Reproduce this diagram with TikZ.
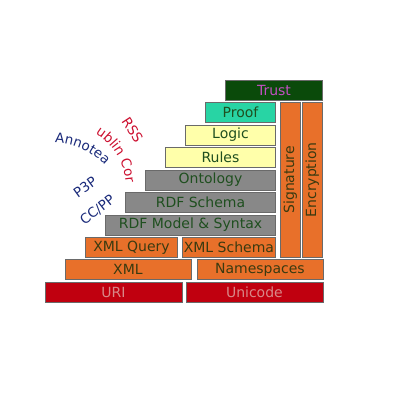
\documentclass[tikz,border=0pt]{standalone}
\usepackage{fontspec}
\setmainfont{DejaVu Sans}
\usetikzlibrary{decorations.text}
\definecolor{boxline}{HTML}{6A6A6A}
\definecolor{darkred}{HTML}{C0000F}
\definecolor{uritext}{HTML}{D88888}
\definecolor{orng}{HTML}{E8702A}
\definecolor{orngtext}{HTML}{3A3A10}
\definecolor{gry}{HTML}{888888}
\definecolor{grytext}{HTML}{1F4F1F}
\definecolor{yel}{HTML}{FFFFAA}
\definecolor{teal2}{HTML}{28D4A4}
\definecolor{trustbg}{HTML}{0A4A0A}
\definecolor{trusttext}{HTML}{C050C0}
\definecolor{annblue}{HTML}{1A2A7A}
\definecolor{labred}{HTML}{CC1030}
\begin{document}
\begin{tikzpicture}[x=1pt,y=1pt,
  layer/.style={draw=boxline, line width=0.8pt, inner sep=0pt, minimum height=20pt,
    font=\fontsize{14}{14}\selectfont},
  redbox/.style={layer, fill=darkred, text=uritext},
  orbox/.style={layer, fill=orng, text=orngtext},
  grbox/.style={layer, fill=gry, text=grytext},
  yebox/.style={layer, fill=yel, text=grytext},
  lab/.style={font=\fontsize{13.5}{13.5}\selectfont, inner sep=0pt}]
\useasboundingbox (0,0) rectangle (400,-400);
% bottom rows
\node[redbox, minimum width=137] (uri) at (113.4,-292.3) {URI};
\node[redbox, minimum width=137] (unicode) at (254.4,-292.3) {Unicode};
\node[orbox, minimum width=126] (xml) at (127.9,-269.8) {XML};
\node[orbox, minimum width=126] (ns) at (259.9,-269.8) {Namespaces};
\node[orbox, minimum width=92.4] (xq) at (131.5,-247.4) {XML Query};
\node[orbox, minimum width=93.7] (xs) at (228.9,-247.4) {XML Schema};
\node[grbox, minimum width=170.4] (rdfms) at (190.5,-224.9) {RDF Model \& Syntax};
\node[grbox, minimum width=150.4] (rdfs) at (200.5,-202.4) {RDF Schema};
\node[grbox, minimum width=130.4] (onto) at (210.5,-179.9) {Ontology};
\node[yebox, minimum width=110.4] (rules) at (220.5,-157.4) {Rules};
\node[yebox, minimum width=90.4] (logic) at (230.5,-135) {Logic};
\node[layer, fill=teal2, text=grytext, minimum width=70.4] (proof) at (240.5,-112.5) {Proof};
\node[layer, fill=trustbg, text=trusttext, minimum width=97.4] (trust) at (274,-90) {Trust};
\node[orbox, minimum width=155, minimum height=20, rotate=90] (sig) at (290.3,-179.8) {Signature};
\node[orbox, minimum width=155, minimum height=20.7, rotate=90] (enc) at (312.35,-179.8) {Encryption};
% labels
\path[decorate, decoration={text along path, text align=center, text color=annblue,
  text={|\fontsize{13.5}{13.5}\selectfont|Annotea}}]
  (52.5,-216) ++(88:73) arc[start angle=88, end angle=44, radius=73];
\path[decorate, decoration={text along path, text align=center, text color=labred,
  text={|\fontsize{13.5}{13.5}\selectfont|ublin Cor}}]
  (62,-188) ++(65:64) arc[start angle=65, end angle=-2, radius=64];
\node[lab, text=labred, rotate=-57] (rss) at (132.5,-130) {RSS};
\node[lab, text=annblue, rotate=36] (p3p) at (85,-187) {P3P};
\node[lab, text=annblue, rotate=38] (ccpp) at (97.5,-210) {CC/PP};
\end{tikzpicture}
\end{document}
